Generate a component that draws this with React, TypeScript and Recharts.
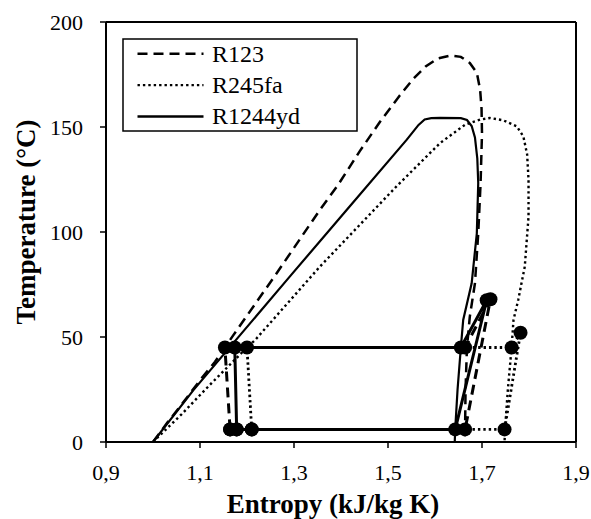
import React from 'react';
import { ComposedChart, Line, XAxis, YAxis, ReferenceLine, Legend, Label } from 'recharts';

const FONT = 'Liberation Serif, Tinos, Times New Roman, Times, DejaVu Serif, serif';

const xTicks = [0.9, 1.1, 1.3, 1.5, 1.7, 1.9];
const yTicks = [0, 50, 100, 150, 200];
const seriesNames = ['R123', 'R245fa', 'R1244yd'];

// Saturation domes (entropy kJ/kg K, temperature °C)
const r123Dome: [number, number][] = [
  [1.0, 0], [1.029, 8.8], [1.057, 16.7], [1.1, 29.4], [1.132, 38.2], [1.153, 45], [1.171, 50.9],
  [1.262, 80], [1.355, 110.5], [1.394, 122.5], [1.44, 138.5], [1.483, 152.5], [1.525, 165], [1.554, 173],
  [1.58, 178.8], [1.606, 182.6], [1.632, 184], [1.655, 183.4], [1.674, 180.5], [1.689, 175.8], [1.696, 167.8], [1.699, 159],
  [1.7, 147], [1.697, 123.3], [1.692, 99.4], [1.685, 75.6], [1.674, 59.6], [1.668, 45],
  [1.665, 25], [1.664, 6], [1.663, 0],
];
const r245faDome: [number, number][] = [
  [1.0, 0], [1.06, 13], [1.12, 27], [1.2, 45], [1.217, 48.5], [1.355, 83.5], [1.518, 121.7],
  [1.611, 142.4], [1.664, 151.1], [1.696, 153.5], [1.717, 154.3], [1.745, 153.2], [1.774, 150.3],
  [1.788, 145.5], [1.796, 137], [1.799, 125], [1.799, 107.3], [1.791, 83.5], [1.777, 67.6],
  [1.767, 58.1], [1.763, 45], [1.755, 25], [1.749, 6], [1.748, 0],
];
const r1244ydDome: [number, number][] = [
  [1.0, 0], [1.086, 24.7], [1.164, 45.3], [1.29, 78.5], [1.412, 110.5], [1.54, 144],
  [1.565, 151], [1.578, 153.6], [1.592, 154.2], [1.611, 154.3], [1.655, 154.2], [1.668, 153.3],
  [1.678, 150.5], [1.685, 145], [1.69, 135], [1.692, 123.3], [1.689, 99.4], [1.678, 75.6], [1.66, 58.1],
  [1.655, 45], [1.648, 25], [1.643, 6], [1.642, 0],
];

// ORC cycles
const r123Cycle: [number, number][] = [
  [1.164, 6], [1.153, 45], [1.664, 45], [1.718, 68], [1.664, 6], [1.164, 6],
];
const r245faCycle: [number, number][] = [
  [1.21, 6], [1.2, 45], [1.763, 45], [1.782, 52], [1.748, 6], [1.21, 6],
];
const r1244ydCycle: [number, number][] = [
  [1.178, 6], [1.174, 45], [1.655, 45], [1.71, 67.5], [1.643, 6], [1.178, 6],
];

const toPts = (a: [number, number][]) => a.map(([s, t]) => ({ s, t }));

const DASH = '10 6';
const DOT = '2.4 3';

const legendStyles = [
  { dash: DASH, width: 2.5 },
  { dash: DOT, width: 2.2 },
  { dash: undefined, width: 2.5 },
];

const txt = { fontFamily: FONT };

const LegendBox = () => (
  <svg width={236} height={94} style={{ display: 'block' }}>
    <rect x={1} y={1} width={234} height={92} fill="#fff" stroke="#000" strokeWidth={1.5} />
    {seriesNames.map((name, i) => (
      <g key={name}>
        <line
          x1={15.5}
          x2={81.5}
          y1={15.8 + i * 31.4}
          y2={15.8 + i * 31.4}
          stroke="#000"
          strokeWidth={legendStyles[i].width}
          strokeDasharray={legendStyles[i].dash}
        />
        <text x={90} y={24.2 + i * 31} style={{ ...txt, fontSize: 24 }} fill="#000">
          {name}
        </text>
      </g>
    ))}
  </svg>
);

const fmt = (v: number) => v.toFixed(1).replace('.', ',');

export default function App() {
  const dot = { r: 7, fill: '#000', stroke: '#000', strokeWidth: 0 };
  return (
    <div style={{ position: 'absolute', left: 0, top: 0, background: '#fff', fontFamily: FONT }}>
      <ComposedChart width={591} height={519} margin={{ top: 22, right: 15, left: 0, bottom: 0 }}>
        <XAxis
          type="number"
          dataKey="s"
          domain={[0.9, 1.9]}
          ticks={xTicks}
          tickFormatter={fmt}
          allowDataOverflow
          height={77}
          tickSize={6}
          tickMargin={16}
          axisLine={{ stroke: '#000', strokeWidth: 2 }}
          tickLine={{ stroke: '#000', strokeWidth: 1.5 }}
          tick={{ fill: '#000', fontSize: 22, style: txt }}
        >
          <Label
            content={() => (
              <text x={333} y={513} textAnchor="middle" style={{ ...txt, fontSize: 27, fontWeight: 'bold' }} fill="#000">
                Entropy (kJ/kg K)
              </text>
            )}
          />
        </XAxis>
        <YAxis
          type="number"
          dataKey="t"
          domain={[0, 200]}
          ticks={yTicks}
          allowDataOverflow
          width={106}
          tickSize={6}
          tickMargin={17}
          axisLine={{ stroke: '#000', strokeWidth: 2 }}
          tickLine={{ stroke: '#000', strokeWidth: 1.5 }}
          tick={{ fill: '#000', fontSize: 22, style: txt }}
        >
          <Label
            content={() => (
              <text
                x={26}
                y={222}
                transform="rotate(-90 26 222)"
                textAnchor="middle"
                dominantBaseline="central"
                style={{ ...txt, fontSize: 27, fontWeight: 'bold' }}
                fill="#000"
              >
                Temperature (°C)
              </text>
            )}
          />
        </YAxis>
        <ReferenceLine y={200} stroke="#000" strokeWidth={2} />
        <ReferenceLine x={1.9} stroke="#000" strokeWidth={2} />

        <Line data={toPts(r123Dome)} dataKey="t" type="linear" stroke="#000" strokeWidth={2.5} strokeDasharray={DASH} dot={false} isAnimationActive={false} legendType="none" />
        <Line data={toPts(r245faDome)} dataKey="t" type="linear" stroke="#000" strokeWidth={2.4} strokeDasharray={DOT} dot={false} isAnimationActive={false} legendType="none" />
        <Line data={toPts(r1244ydDome)} dataKey="t" type="linear" stroke="#000" strokeWidth={2.2} dot={false} isAnimationActive={false} legendType="none" />

        <Line data={toPts(r245faCycle)} dataKey="t" type="linear" stroke="#000" strokeWidth={2.8} strokeDasharray={DOT} dot={dot} isAnimationActive={false} legendType="none" />
        <Line data={toPts(r123Cycle)} dataKey="t" type="linear" stroke="#000" strokeWidth={3} strokeDasharray={DASH} dot={dot} isAnimationActive={false} legendType="none" />
        <Line data={toPts(r1244ydCycle)} dataKey="t" type="linear" stroke="#000" strokeWidth={3} dot={dot} isAnimationActive={false} legendType="none" />

        <Legend
          layout="vertical"
          align="center"
          verticalAlign="middle"
          content={<LegendBox />}
          wrapperStyle={{ left: 121.5, top: 37.5, width: 236, height: 94 }}
        />
      </ComposedChart>
    </div>
  );
}
